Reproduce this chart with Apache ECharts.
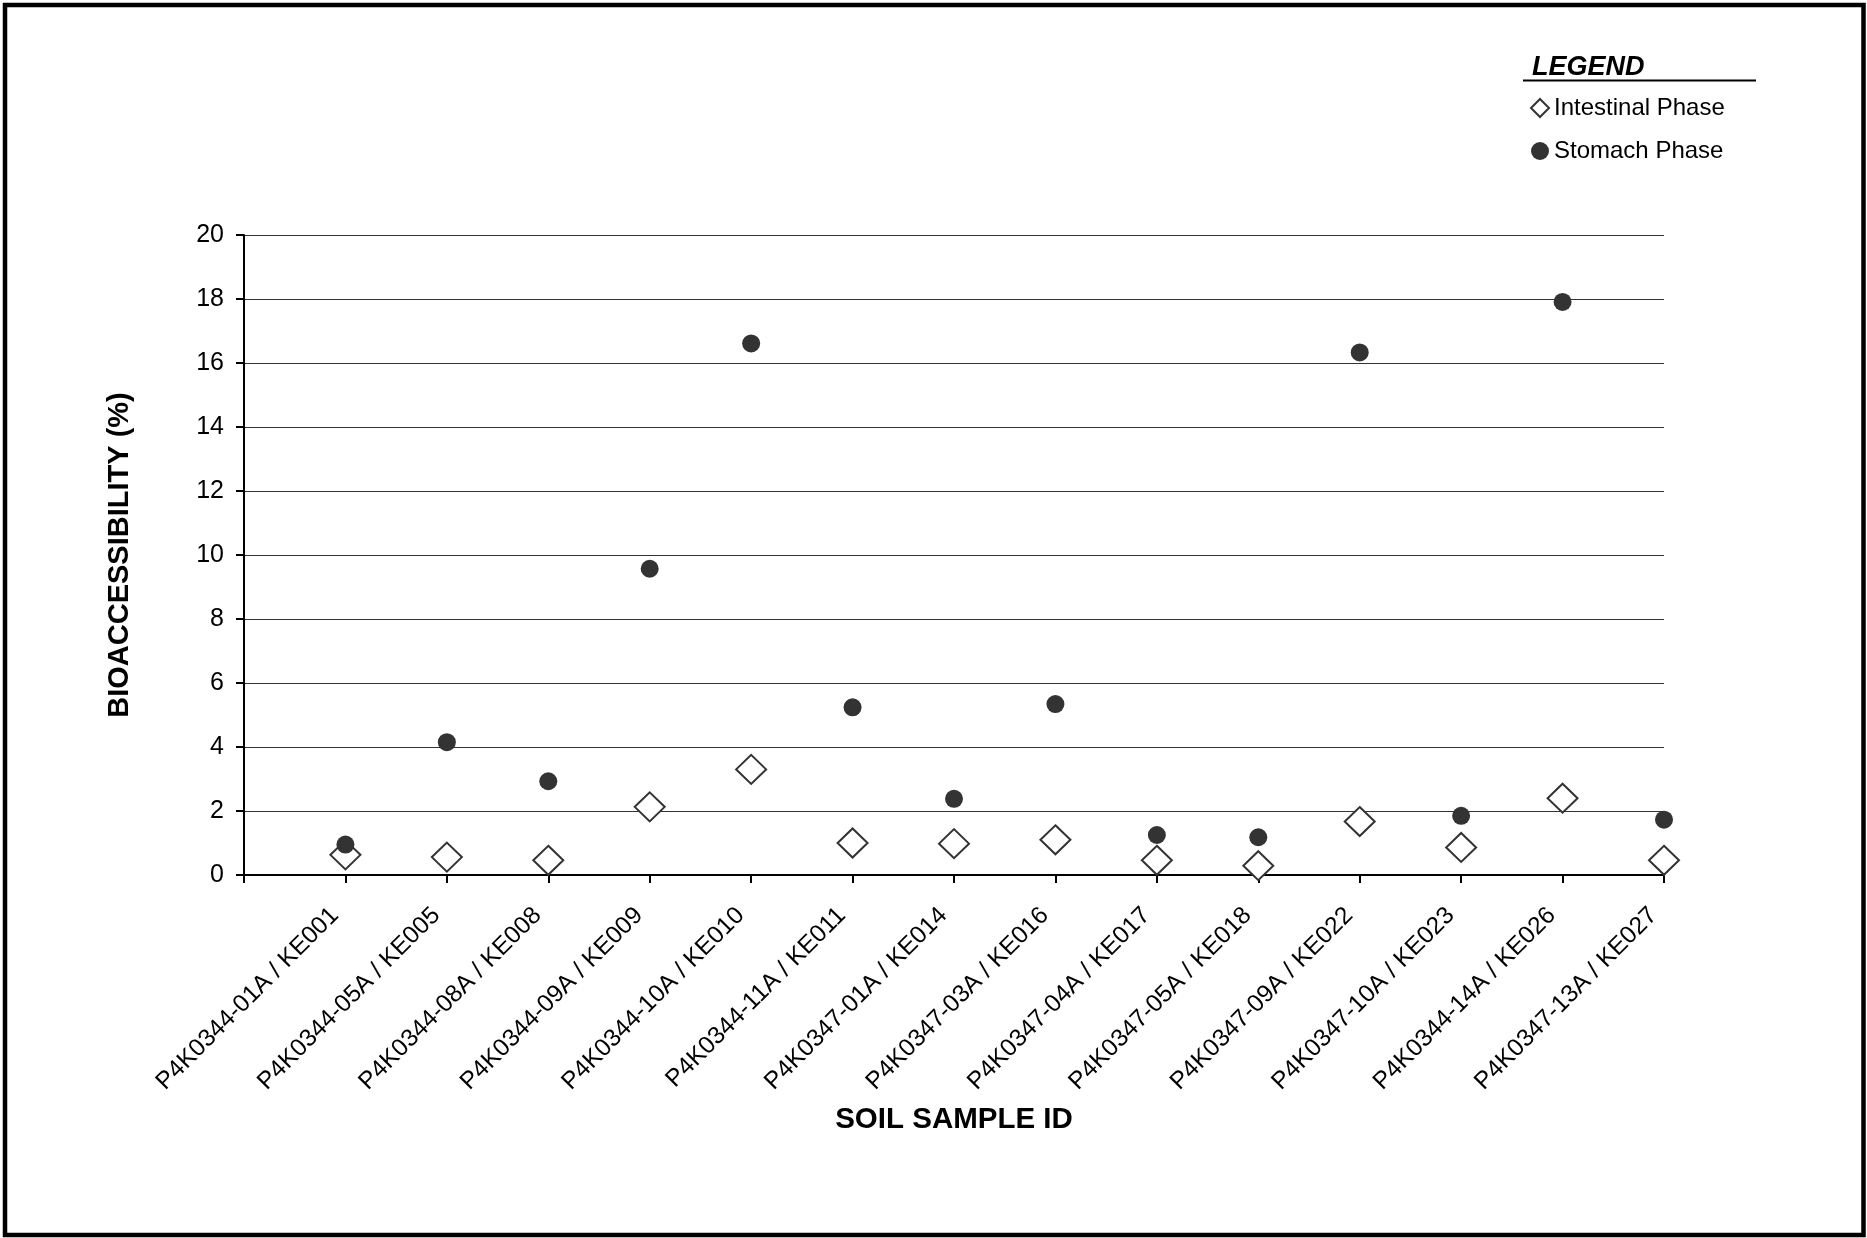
<!DOCTYPE html>
<html>
<head>
<meta charset="utf-8">
<script src="https://cdn.jsdelivr.net/npm/echarts@6/dist/echarts.min.js"></script>
<style>
html,body{margin:0;padding:0;background:#fff;}
#chart{width:1867px;height:1238px;}
</style>
</head>
<body>
<div id="chart"></div>
<script>
var categories = [
  'P4K0344-01A / KE001','P4K0344-05A / KE005','P4K0344-08A / KE008','P4K0344-09A / KE009',
  'P4K0344-10A / KE010','P4K0344-11A / KE011','P4K0347-01A / KE014','P4K0347-03A / KE016',
  'P4K0347-04A / KE017','P4K0347-05A / KE018','P4K0347-09A / KE022','P4K0347-10A / KE023',
  'P4K0344-14A / KE026','P4K0347-13A / KE027'
];
var intestinal = [0.63,0.56,0.46,2.13,3.30,1.00,0.98,1.10,0.46,0.29,1.67,0.86,2.40,0.46];
var stomach = [0.95,4.15,2.93,9.57,16.61,5.24,2.38,5.34,1.25,1.18,16.33,1.85,17.91,1.73];
var yTicks = [0,2,4,6,8,10,12,14,16,18,20];

var font = '"Liberation Sans", Arial, sans-serif';
function pairs(arr){ return arr.map(function(v,i){ return [i+1, v]; }); }

var chart = echarts.init(document.getElementById('chart'), null, {renderer:'canvas'});
chart.setOption({
  backgroundColor:'#fff',
  animation:false,
  grid:{left:244, right:203, top:235, bottom:363},
  legend:{
    orient:'vertical', left:1525, top:91, itemGap:19,
    itemWidth:18, itemHeight:18,
    textStyle:{fontFamily:font, fontSize:24, color:'#000'},
    data:['Intestinal Phase','Stomach Phase']
  },
  xAxis:{
    type:'value', min:0, max:categories.length, interval:1,
    name:'SOIL SAMPLE ID', nameLocation:'middle', nameGap:230,
    nameTextStyle:{fontFamily:font, fontSize:29.5, fontWeight:'bold', color:'#000'},
    axisLine:{show:true, onZero:false, lineStyle:{color:'#000', width:2}},
    axisTick:{show:true, length:8, lineStyle:{color:'#000', width:2}},
    splitLine:{show:false},
    axisLabel:{
      rotate:45, margin:26, padding:[0,15,0,0], fontFamily:font, fontSize:24.5, color:'#000',
      formatter:function(v){ return (v>=1 && v<=categories.length) ? categories[v-1] : ''; }
    }
  },
  yAxis:{
    type:'value', min:yTicks[0], max:yTicks[yTicks.length-1], interval:2,
    name:'BIOACCESSIBILITY (%)', nameLocation:'middle', nameGap:110, nameRotate:90,
    nameTextStyle:{fontFamily:font, fontSize:29, fontWeight:'bold', color:'#000'},
    axisLine:{show:true, lineStyle:{color:'#000', width:2}},
    axisTick:{show:true, length:8, lineStyle:{color:'#000', width:2}},
    splitLine:{show:true, lineStyle:{color:'#333', width:1}},
    axisLabel:{margin:20, fontFamily:font, fontSize:25, color:'#000'}
  },
  series:[
    {
      name:'Intestinal Phase', type:'scatter', symbol:'diamond', symbolSize:[30,29],
      itemStyle:{color:'#fff', borderColor:'#333', borderWidth:2, opacity:1},
      data:pairs(intestinal), z:3
    },
    {
      name:'Stomach Phase', type:'scatter', symbol:'circle', symbolSize:18,
      itemStyle:{color:'#333', opacity:1},
      data:pairs(stomach), z:4
    }
  ],
  graphic:[
    {type:'rect', shape:{x:5, y:5, width:1858.5, height:1230}, style:{fill:'none', stroke:'#000', lineWidth:4.5}, silent:true},
    {type:'text', left:1532, top:54, style:{text:'LEGEND', font:'italic bold 27px "Liberation Sans", Arial, sans-serif', fill:'#000'}},
    {type:'line', shape:{x1:1523, y1:80.5, x2:1756, y2:80.5}, style:{stroke:'#000', lineWidth:2}}
  ]
});
</script>
</body>
</html>
